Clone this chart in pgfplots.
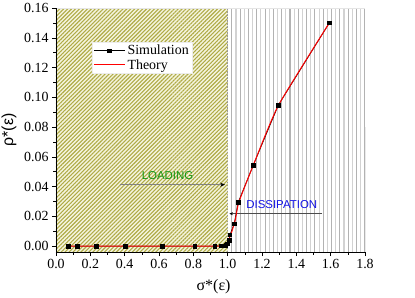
\documentclass[border=0pt]{standalone}
\usepackage{fontspec}
\setmainfont{Liberation Serif}
\newfontfamily\arial{Liberation Sans}
\usepackage{graphicx}
\usepackage{pgfplots}
\pgfplotsset{compat=1.18}
\usetikzlibrary{patterns.meta,arrows.meta}
\definecolor{olivehatch}{RGB}{175,170,70}
\definecolor{hatchbg}{RGB}{245,245,222}
\definecolor{loadgreen}{RGB}{20,150,20}
\definecolor{dissblue}{RGB}{20,20,230}
\begin{document}
\begin{tikzpicture}
\begin{axis}[
  scale only axis, width=309bp, height=244bp,
  xmin=0, xmax=1.8, ymin=-0.004, ymax=0.16,
  axis x line*=bottom, axis y line*=left,
  axis on top,
  tick align=outside,
  xtick={0,0.2,...,1.8}, ytick={0,0.02,...,0.16},
  minor tick num=1,
  major tick length=4bp, minor tick length=2.5bp,
  tick style={black, line width=0.6pt},
  axis line style={black, line width=0.8pt},
  /pgf/number format/assume math mode=true,
  xticklabel style={/pgf/number format/.cd, fixed, fixed zerofill, precision=1},
  yticklabel style={/pgf/number format/.cd, fixed, fixed zerofill, precision=2},
  ticklabel style={font=\fontsize{14}{16}\selectfont},
  scaled y ticks=false,
  xlabel={σ*(ε)},
  xlabel style={font=\fontsize{16}{18}\selectfont, at={(axis description cs:0.51,-0.143)}, anchor=center},
  legend style={at={(0.117,0.861)}, anchor=north west, draw=gray!15, fill=white,
    font=\fontsize{14}{15}\selectfont, inner sep=1pt, row sep=-1pt},
  legend cell align=left,
  legend image code/.code={\draw[mark repeat=2,mark phase=2,#1] plot coordinates {(0cm,0cm)(0.55cm,0cm)(1.1cm,0cm)};},
]
% loading region
\fill[hatchbg] (axis cs:0,-0.004) rectangle (axis cs:1.0,0.16);
\fill[pattern={Lines[angle=45,distance=2.8pt,line width=1.1pt]}, pattern color=olivehatch] (axis cs:0,-0.004) rectangle (axis cs:1.0,0.16);
% dissipation region
\pgfplotsinvokeforeach{1,3,...,33}{\draw[gray!60, line width=1.1pt] (axis cs:{1.0+#1*0.0242},-0.004) -- (axis cs:{1.0+#1*0.0242},0.16);}
\pgfplotsinvokeforeach{2,4,...,32}{\draw[gray!35, line width=1.1pt] (axis cs:{1.0+#1*0.0242},-0.004) -- (axis cs:{1.0+#1*0.0242},0.16);}
\draw[gray!80, dash pattern=on 1.5pt off 1.5pt, line width=0.8pt] (axis cs:1.0,-0.004) -- (axis cs:1.0,0.16);
\draw[gray!20, line width=0.8pt] (axis cs:0,0.16) -- (axis cs:1.8,0.16);
\draw[gray!70!black, line width=0.8pt] (axis cs:1.8,-0.004) -- (axis cs:1.8,0.080);
% arrows and labels
\draw[gray, line width=0.9pt, -{Stealth[black,length=5pt,width=4pt]}] (axis cs:0.37,0.0413) -- (axis cs:0.985,0.0413);
\node[text=loadgreen, font=\arial\fontsize{11.5}{12}\selectfont] at (axis cs:0.65,0.0475) {LOADING};
\draw[gray!60!black, line width=0.9pt, -{Stealth[black,length=3.5pt,width=3pt]}] (axis cs:1.55,0.0218) -- (axis cs:1.01,0.0218);
\node[text=dissblue, font=\arial\fontsize{11.5}{12}\selectfont] at (axis cs:1.315,0.0276) {DISSIPATION};
% data
\addplot[black, line width=0.7pt, mark=square*, mark size=1.9pt] coordinates {
(0.072,0) (0.126,0) (0.233,0) (0.402,0) (0.618,0) (0.809,0) (0.925,0) (0.965,0.0002)
(0.99,0.0005) (1.0,0.0015) (1.008,0.004) (1.013,0.0075) (1.038,0.015) (1.062,0.0296)
(1.149,0.0543) (1.295,0.0947) (1.592,0.150)};
\addlegendentry{Simulation}
\addplot[red, line width=1pt, smooth, tension=0.3] coordinates {
(0.072,0) (0.5,0) (0.97,0) (0.99,0.0004) (1.0,0.0015) (1.01,0.005) (1.025,0.010)
(1.045,0.018) (1.065,0.0295) (1.149,0.0543) (1.295,0.0945) (1.592,0.150)};
\addlegendentry{Theory}
\end{axis}
\node[inner sep=0pt, font=\arial\fontsize{16}{18}\selectfont] at ([xshift=-47bp]current axis.west) {\rotatebox{90}{ρ*(ε)}};
\path (current axis.south west) ++(-56bp,-44bp) rectangle ++(415bp,294bp);
\end{tikzpicture}
\end{document}
